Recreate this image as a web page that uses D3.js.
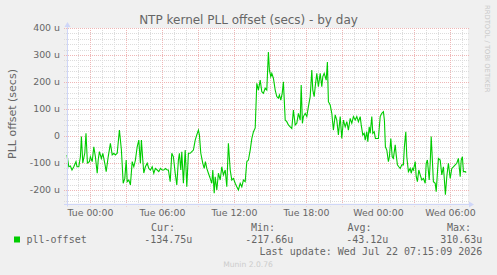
<!DOCTYPE html>
<html>
<head>
<meta charset="utf-8">
<script src="https://cdn.jsdelivr.net/npm/d3@7"></script>
<style>
    body { margin: 0; background: #f0f0f0; }
    svg { display: block; font-family: "DejaVu Sans", sans-serif; }
</style>
</head>
<body>
<div id="chart"></div>
<script>
// data: minutes from Tue 00:00 and offset in microseconds
const sampleMinutes = [
    -117, -108, -100, -92, -83, -72, -67, -58, -50, -45,
    -38, -28, -22, -15, -5, 0, 9, 17, 25, 34,
    39, 45, 55, 62, 72, 79, 89, 100, 109, 117,
    125, 134, 145, 155, 164, 172, 179, 184, 192, 200,
    209, 217, 225, 234, 242, 250, 255, 262, 267, 275,
    284, 292, 300, 309, 317, 325, 334, 342, 350, 359,
    367, 375, 384, 390, 399, 407, 415, 424, 432, 440,
    445, 452, 457, 465, 474, 482, 490, 499, 507, 515,
    524, 532, 540, 545, 552, 562, 569, 575, 582, 590,
    599, 607, 612, 619, 624, 632, 640, 649, 657, 665,
    674, 682, 690, 699, 707, 715, 724, 732, 740, 749,
    757, 765, 774, 782, 790, 799, 807, 815, 824, 832,
    840, 849, 857, 865, 874, 882, 890, 895, 902, 907,
    915, 924, 932, 940, 945, 952, 959, 965, 974, 982,
    990, 999, 1007, 1015, 1024, 1032, 1040, 1049, 1054, 1060,
    1065, 1074, 1082, 1090, 1099, 1107, 1112, 1119, 1124, 1132,
    1140, 1149, 1157, 1162, 1169, 1179, 1185, 1190, 1199, 1207,
    1215, 1224, 1232, 1240, 1249, 1257, 1265, 1274, 1282, 1290,
    1299, 1307, 1315, 1324, 1332, 1340, 1349, 1354, 1362, 1369,
    1374, 1382, 1387, 1394, 1399, 1407, 1412, 1419, 1425, 1432,
    1440, 1449, 1457, 1465, 1470, 1475, 1482, 1490, 1495, 1502,
    1509, 1515, 1524, 1529, 1535, 1542, 1549, 1557, 1565, 1570,
    1577, 1582, 1590, 1599, 1604, 1610, 1615, 1624, 1629, 1635,
    1642, 1649, 1657, 1665, 1674, 1679, 1685, 1694, 1699, 1704,
    1709, 1715, 1724, 1729, 1735, 1740, 1749, 1757, 1765, 1770,
    1775, 1782, 1790, 1799, 1807, 1815, 1824, 1832, 1840, 1849,
    1854, 1860, 1865, 1874, 1879
];
const pllOffset = [
    -70, -114, -111, -126, -114, -95, -114, -114, -77, -2,
    -100, -63, 10, -100, -95, -77, -95, -40, -77, -138,
    -89, -58, -83, -64, -101, -132, -77, -27, -70, -64,
    -70, -64, 22, -52, -175, -157, -89, -169, -163, -181,
    -95, -114, -89, -40, -15, -101, -15, -89, -137, -114,
    -101, -120, -126, -114, -138, -120, -126, -132, -120, -126,
    -126, -120, -126, -126, -169, -64, -77, -138, -181, -89,
    -64, -126, -58, -175, -52, -188, -64, -64, -58, -52,
    -15, 4, 22, 4, -64, -101, -120, -95, -120, -138,
    -157, -175, -126, -212, -151, -200, -138, -163, -114, -144,
    -126, -188, -27, -126, -163, -157, -175, -188, -200, -175,
    -188, -163, -169, -95, -89, -52, -10, 15, 30, 195,
    170, 207, 164, 158, 177, 170, 311, 244, 220, 232,
    214, 170, 146, 140, 152, 133, 158, 201, 59, 53,
    41, 34, 28, 96, 41, 47, 84, 59, 189, 47,
    72, 84, 72, 109, 146, 244, 170, 146, 183, 232,
    183, 232, 183, 220, 232, 207, 274, 127, 115, 84,
    22, 78, 59, 4, 72, -9, 59, 34, 53, 22,
    65, 47, 72, 59, 72, 53, 72, 41, 4, 10,
    -15, 16, -21, 34, 10, 72, 10, 16, -9, -9,
    -9, 72, 84, 90, 59, -40, -52, -95, -77, -9,
    -77, -83, -33, -70, -107, -114, -120, -107, -107, -40,
    16, -77, -132, -120, -138, -120, -126, -95, -150, -169,
    -126, -144, -163, -157, -175, -101, -89, -163, -101, -2,
    -77, -169, -175, -206, -138, -83, -89, -144, -114, -163,
    -217, -150, -101, -157, -120, -114, -107, -101, -83, -151,
    -89, -77, -132, -132, -135
];

const yDomain = [-250, 400];
const yMajorTicks = [-200, -100, 0, 100, 200, 300, 400];
const statLabels = ["Cur:", "Min:", "Avg:", "Max:"];
const statValues = ["-134.75u", "-217.66u", "-43.12u", "310.63u"];
const seriesName = "pll-offset";
const lastUpdate = "Last update: Wed Jul 22 07:15:09 2026";

const W = 497, H = 275;
const plotLeft = 67, plotRight = 468, plotTop = 28, plotBottom = 203.5;
const fontColor = "#666666";
const axisColor = "#cfd6f8";
const gridColor = "#dcdcdc";
const mgridColor = "#efb6b6";
const lineColor = "#00cc00";

const base = new Date(2026, 6, 21, 0, 0, 0);
const toDate = m => new Date(base.getTime() + m * 60000);

const data = sampleMinutes.map((m, i) => ({ t: toDate(m), v: pllOffset[i] }));

const svg = d3.select("#chart").append("svg")
    .attr("width", W)
    .attr("height", H);

svg.append("rect").attr("width", W).attr("height", H).attr("fill", "#f0f0f0");

const x = d3.scaleTime()
    .domain([toDate(-117), toDate(1888)])
    .range([plotLeft, plotRight]);

const y = d3.scaleLinear()
    .domain(yDomain)
    .range([plotBottom, plotTop]);

// canvas
svg.append("rect")
    .attr("x", plotLeft).attr("y", plotTop)
    .attr("width", plotRight - plotLeft).attr("height", plotBottom - plotTop)
    .attr("fill", "#ffffff");

const px = v => Math.round(v) + 0.5;

// minor grid
const yMinor = d3.range(-240, 401, 20).filter(v => v % 100 !== 0);
svg.append("g").selectAll("line")
    .data(yMinor).enter().append("line")
    .attr("x1", plotLeft - 3).attr("x2", plotRight + 2)
    .attr("y1", d => px(y(d))).attr("y2", d => px(y(d)))
    .attr("stroke", gridColor).attr("stroke-dasharray", "1,1");

const hourTicks = x.ticks(d3.timeHour.every(1)).filter(d => d.getHours() % 3 !== 0);
svg.append("g").selectAll("line")
    .data(hourTicks).enter().append("line")
    .attr("x1", d => px(x(d))).attr("x2", d => px(x(d)))
    .attr("y1", plotTop).attr("y2", plotBottom + 3)
    .attr("stroke", gridColor).attr("stroke-dasharray", "1,1");

// major grid
svg.append("g").selectAll("line")
    .data(yMajorTicks).enter().append("line")
    .attr("x1", plotLeft - 3).attr("x2", plotRight + 2)
    .attr("y1", d => px(y(d))).attr("y2", d => px(y(d)))
    .attr("stroke", mgridColor).attr("stroke-dasharray", "1,1");

const threeHours = x.ticks(d3.timeHour.every(3));
svg.append("g").selectAll("line")
    .data(threeHours).enter().append("line")
    .attr("x1", d => px(x(d))).attr("x2", d => px(x(d)))
    .attr("y1", plotTop).attr("y2", plotBottom + 3)
    .attr("stroke", mgridColor).attr("stroke-dasharray", "1,1");

// y tick labels
svg.append("g").selectAll("text")
    .data(yMajorTicks).enter().append("text")
    .attr("x", 60)
    .attr("y", d => y(d))
    .attr("dy", "0.35em")
    .attr("text-anchor", "end")
    .attr("font-size", "9.4px")
    .attr("fill", fontColor)
    .text(d => d === 0 ? "0" : d + " u");

// x tick labels
const sixHours = x.ticks(d3.timeHour.every(6));
const fmt = d3.timeFormat("%a %H:%M");
svg.append("g").selectAll("text")
    .data(sixHours).enter().append("text")
    .attr("x", d => x(d))
    .attr("y", 216)
    .attr("text-anchor", "middle")
    .attr("font-size", "9.4px")
    .attr("fill", fontColor)
    .text(d => fmt(d));

// data line
const line = d3.line()
    .x(d => x(d.t))
    .y(d => y(d.v));

svg.append("path")
    .datum(data)
    .attr("d", line)
    .attr("fill", "none")
    .attr("stroke", lineColor)
    .attr("stroke-width", 1.1);

// axes with arrows
const axisY = px(plotBottom);
svg.append("line")
    .attr("x1", plotLeft - 3).attr("x2", plotRight + 2)
    .attr("y1", axisY).attr("y2", axisY)
    .attr("stroke", axisColor);
svg.append("line")
    .attr("x1", plotLeft + 0.5).attr("x2", plotLeft + 0.5)
    .attr("y1", plotBottom + 3).attr("y2", plotTop - 3)
    .attr("stroke", axisColor);
svg.append("path")
    .attr("d", `M${plotRight + 1},${axisY - 3} L${plotRight + 6},${axisY} L${plotRight + 1},${axisY + 3} Z`)
    .attr("fill", axisColor);
svg.append("path")
    .attr("d", `M${plotLeft - 2.5},${plotTop - 1} L${plotLeft + 0.5},${plotTop - 6} L${plotLeft + 3.5},${plotTop - 1} Z`)
    .attr("fill", axisColor);

// title
svg.append("text")
    .attr("x", 248.5).attr("y", 24)
    .attr("text-anchor", "middle")
    .attr("font-size", "12px")
    .attr("fill", fontColor)
    .text("NTP kernel PLL offset (secs) - by day");

// vertical label
svg.append("text")
    .attr("transform", "translate(15.5,114) rotate(-90)")
    .attr("text-anchor", "middle")
    .attr("font-size", "11px")
    .attr("fill", fontColor)
    .text("PLL offset (secs)");

// rrdtool watermark
svg.append("text")
    .attr("transform", "translate(485,5) rotate(90)")
    .attr("font-size", "6.8px")
    .attr("fill", "#c8c8c8")
    .text("RRDTOOL / TOBI OETIKER");

// legend
const mono = "'DejaVu Sans Mono', monospace";
svg.append("rect")
    .attr("x", 14).attr("y", 236.5)
    .attr("width", 6).attr("height", 6)
    .attr("fill", lineColor);
svg.append("text")
    .attr("x", 26.5).attr("y", 242.5)
    .attr("font-family", mono).attr("font-size", "10px")
    .attr("fill", fontColor)
    .text(seriesName);

const headerX = [151, 251, 347.5, 447];
const valueEnd = [192.3, 293.3, 388.3, 482.3];
statLabels.forEach((s, i) => {
    svg.append("text")
        .attr("x", headerX[i]).attr("y", 230.5)
        .attr("font-family", mono).attr("font-size", "10px")
        .attr("fill", fontColor)
        .text(s);
    svg.append("text")
        .attr("x", valueEnd[i]).attr("y", 242.5)
        .attr("text-anchor", "end")
        .attr("font-family", mono).attr("font-size", "10px")
        .attr("fill", fontColor)
        .text(statValues[i]);
});

svg.append("text")
    .attr("x", 482.3).attr("y", 255)
    .attr("text-anchor", "end")
    .attr("font-family", mono).attr("font-size", "10px")
    .attr("fill", fontColor)
    .text(lastUpdate);

svg.append("text")
    .attr("x", 248).attr("y", 267)
    .attr("text-anchor", "middle")
    .attr("font-size", "7.6px")
    .attr("fill", "#cccccc")
    .text("Munin 2.0.76");
</script>
</body>
</html>
